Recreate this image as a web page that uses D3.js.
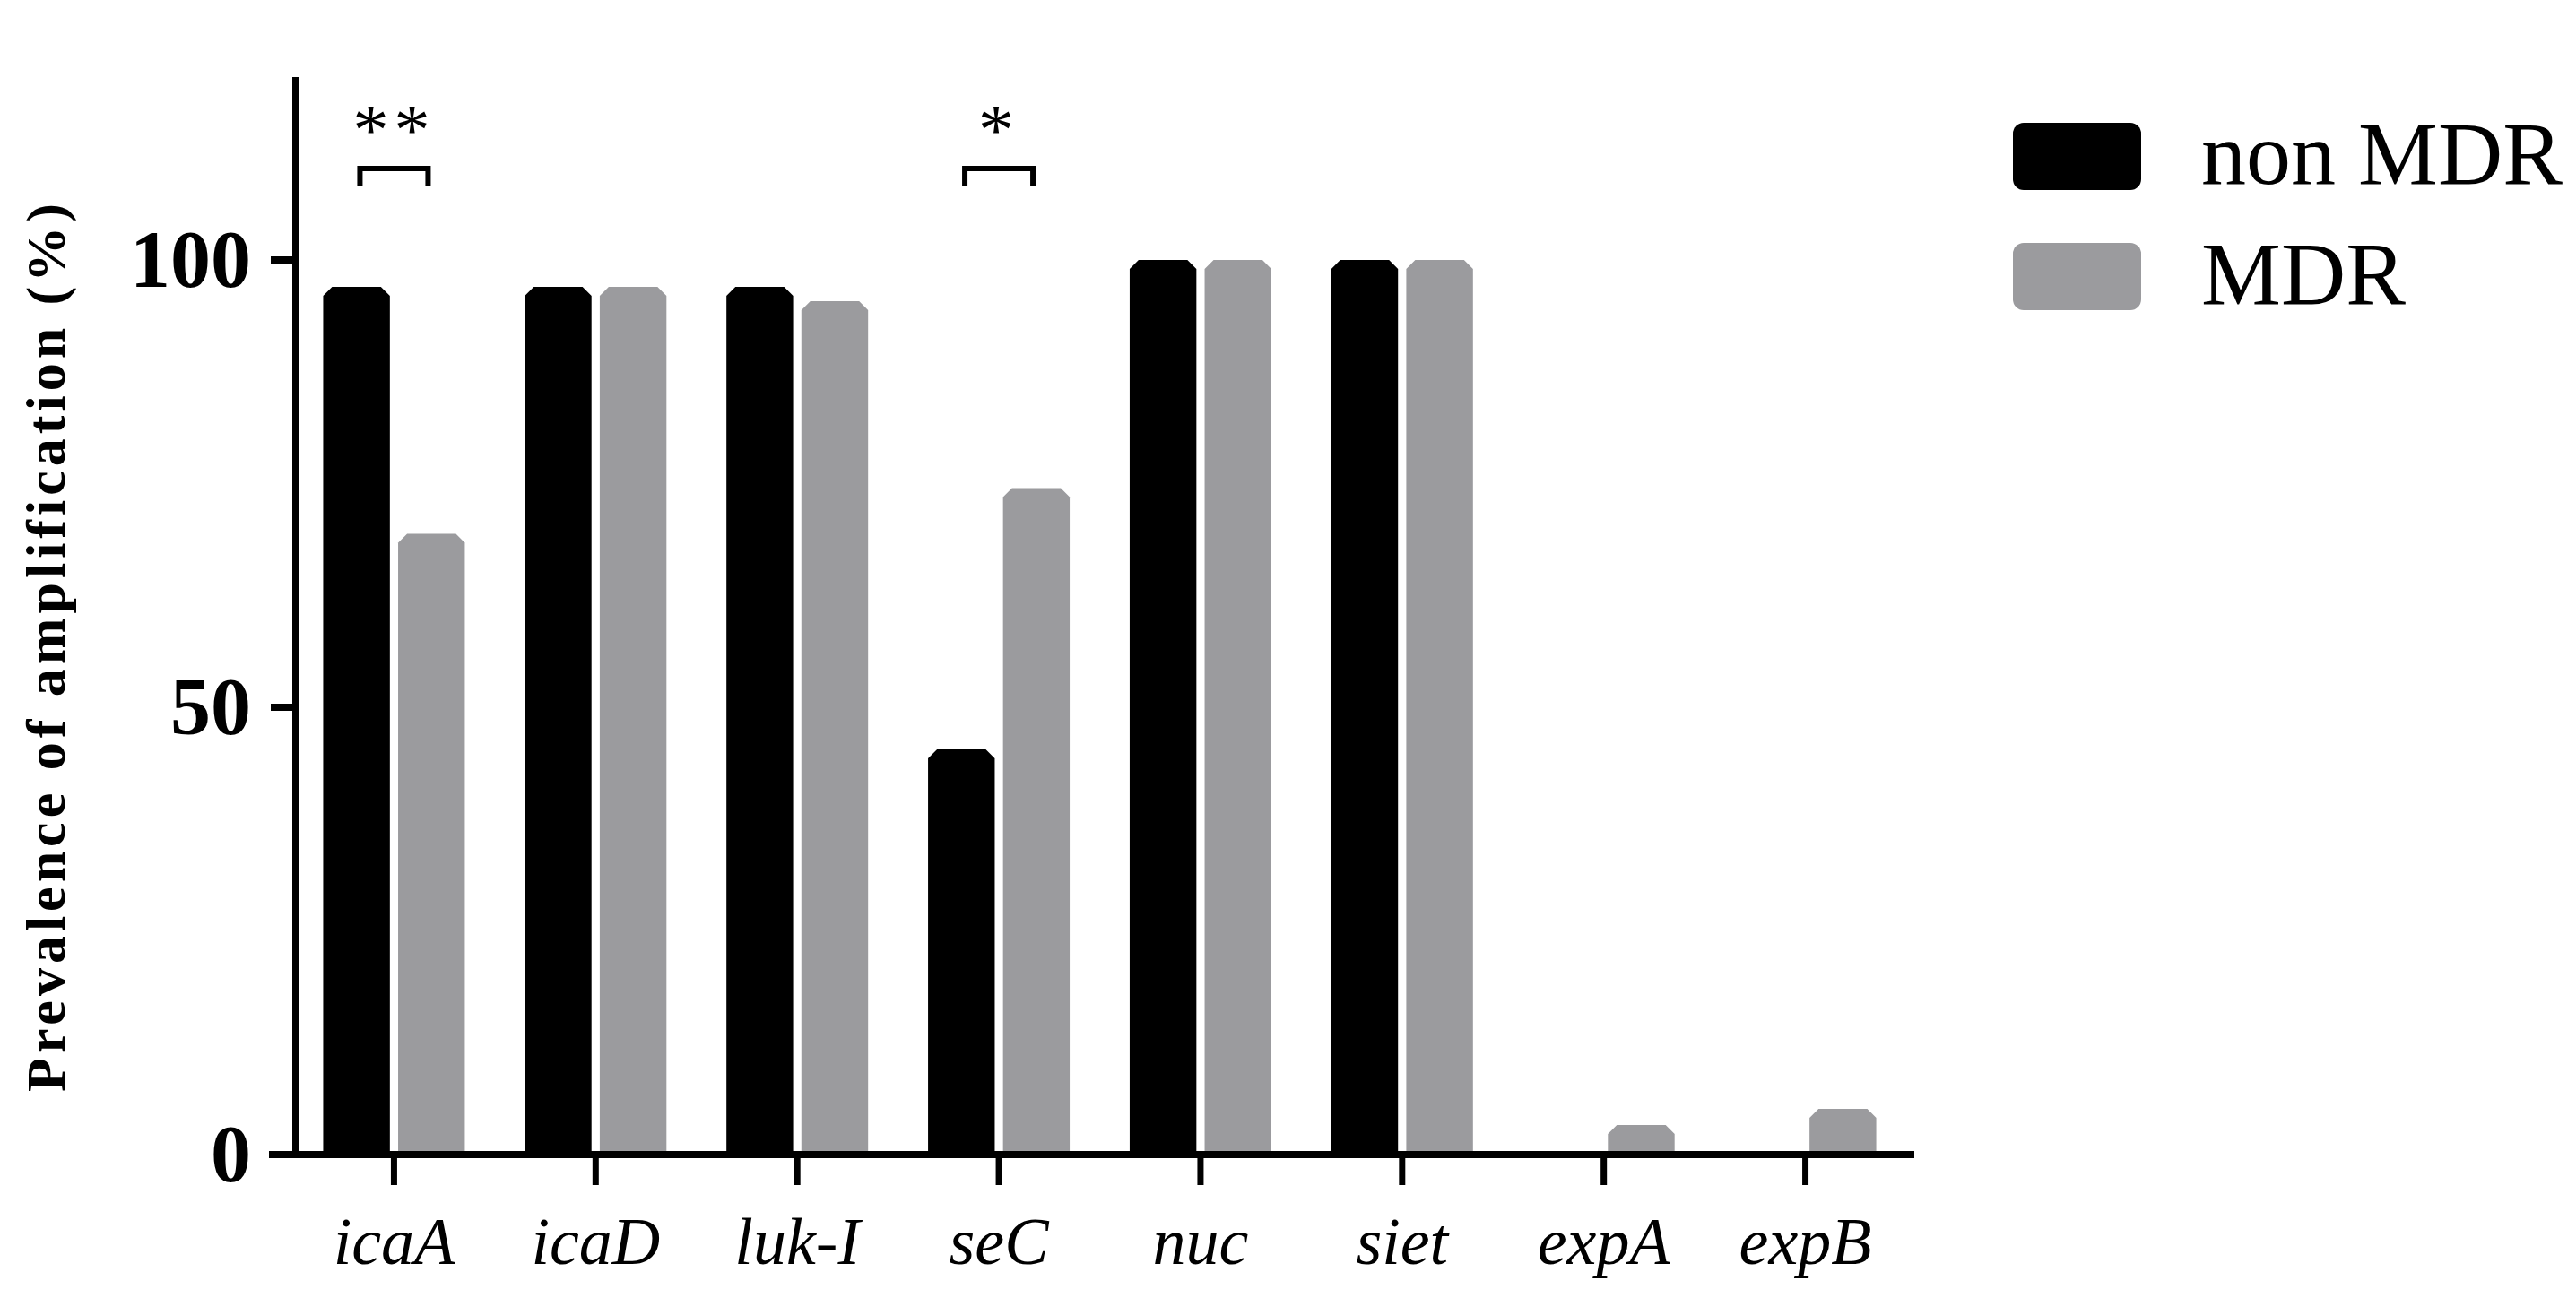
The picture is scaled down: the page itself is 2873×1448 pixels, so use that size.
<!DOCTYPE html>
<html>
<head>
<meta charset="utf-8">
<script src="https://cdn.jsdelivr.net/npm/d3@7"></script>
<style>
  body { margin: 0; background: #fff; }
  text { font-family: "Liberation Serif", "Times New Roman", serif; }
</style>
</head>
<body>
<svg id="chart" width="2873" height="1448"></svg>
<script>
var genes = ["icaA", "icaD", "luk-I", "seC", "nuc", "siet", "expA", "expB"];
var series = ["non MDR", "MDR"];
var nonMDR = [97, 97, 97, 45.3, 100, 100, 0, 0];
var MDR = [69.4, 97, 95.4, 74.5, 100, 100, 3.3, 5.1];
var yTicks = [0, 50, 100];
var sig = [{gene: "icaA", label: "**"}, {gene: "seC", label: "*"}];

var colors = {"non MDR": "#000000", "MDR": "#9b9b9e"};
var svg = d3.select("#chart");

var x = d3.scaleBand().domain(genes).range([327, 2126]);
var x1 = d3.scaleBand().domain(series).range([-79, 79]).paddingInner(0.11);
var y = d3.scaleLinear().domain([0, 100]).range([1288, 290]);

function barPath(x0, w, yTop, yBot) {
  var c = Math.min(10, (yBot - yTop) / 2);
  return "M" + x0 + "," + yBot + "V" + (yTop + c) + "L" + (x0 + c) + "," + yTop +
    "H" + (x0 + w - c) + "L" + (x0 + w) + "," + (yTop + c) + "V" + yBot + "Z";
}

var data = [];
genes.forEach(function(g, i) {
  data.push({gene: g, s: "non MDR", v: nonMDR[i]});
  data.push({gene: g, s: "MDR", v: MDR[i]});
});

svg.selectAll("path.bar").data(data.filter(function(d) { return d.v > 0; }))
  .enter().append("path").attr("class", "bar")
  .attr("fill", function(d) { return colors[d.s]; })
  .attr("d", function(d) {
    var cx = x(d.gene) + x.bandwidth() / 2;
    return barPath(cx + x1(d.s), x1.bandwidth(), y(d.v), y(0));
  });

// y axis
svg.append("line").attr("x1", 330).attr("x2", 330).attr("y1", 86).attr("y2", 1292)
  .attr("stroke", "#000").attr("stroke-width", 8);
svg.selectAll("line.yt").data(yTicks).enter().append("line")
  .attr("x1", 302).attr("x2", 330).attr("y1", function(d) { return y(d); }).attr("y2", function(d) { return y(d); })
  .attr("stroke", "#000").attr("stroke-width", 8);
svg.selectAll("text.yl").data(yTicks).enter().append("text")
  .attr("x", 280).attr("y", function(d) { return y(d) + 30; })
  .attr("text-anchor", "end").attr("font-size", 90).attr("font-weight", "bold")
  .text(function(d) { return d; });

// x axis
svg.append("line").attr("x1", 300).attr("x2", 2135).attr("y1", 1288).attr("y2", 1288)
  .attr("stroke", "#000").attr("stroke-width", 8);
svg.selectAll("line.xt").data(genes).enter().append("line")
  .attr("x1", function(d) { return x(d) + x.bandwidth() / 2; })
  .attr("x2", function(d) { return x(d) + x.bandwidth() / 2; })
  .attr("y1", 1288).attr("y2", 1322).attr("stroke", "#000").attr("stroke-width", 7);
svg.selectAll("text.xl").data(genes).enter().append("text")
  .attr("x", function(d) { return x(d) + x.bandwidth() / 2; })
  .attr("y", 1410).attr("text-anchor", "middle").attr("font-size", 74).attr("font-style", "italic")
  .text(function(d) { return d; });

// y label
svg.append("text").attr("transform", "translate(72,720) rotate(-90)")
  .attr("text-anchor", "middle").attr("font-size", 62).attr("font-weight", "bold")
  .attr("letter-spacing", 5)
  .text("Prevalence of amplification (%)");

// significance brackets
sig.forEach(function(s) {
  var cx = x(s.gene) + x.bandwidth() / 2;
  var l = cx - 38, r = cx + 38;
  svg.append("path").attr("d", "M" + l + ",208V188H" + r + "V208")
    .attr("fill", "none").attr("stroke", "#000").attr("stroke-width", 6);
  svg.append("text").attr("x", cx).attr("y", 172).attr("text-anchor", "middle")
    .attr("font-size", 80).attr("letter-spacing", 6).text(s.label);
});

// legend
series.forEach(function(s, i) {
  var yy = 137 + i * 134;
  svg.append("rect").attr("x", 2245).attr("y", yy).attr("width", 143).attr("height", 75)
    .attr("rx", 12).attr("fill", colors[s]);
  svg.append("text").attr("x", 2455).attr("y", yy + 68).attr("font-size", 100).text(s);
});
</script>
</body>
</html>
